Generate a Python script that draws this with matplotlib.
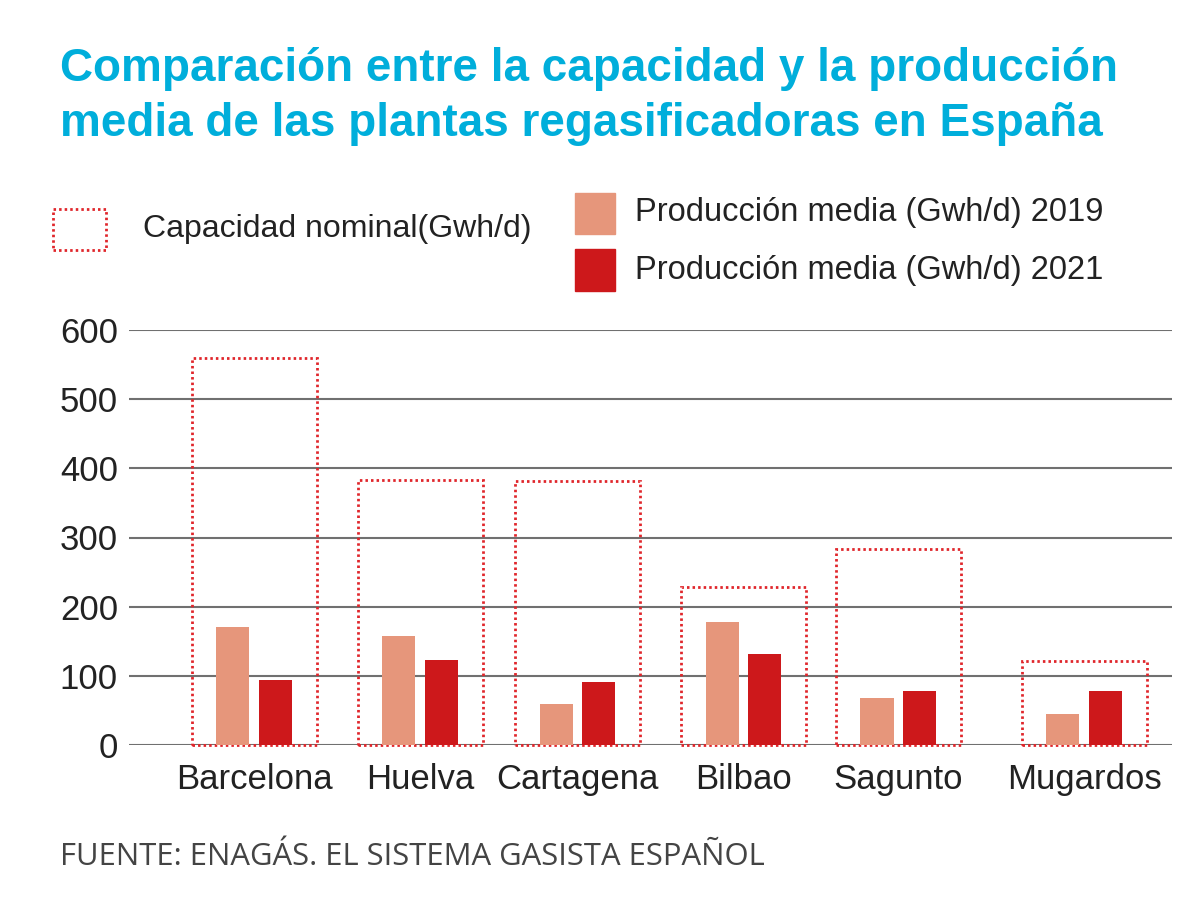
import matplotlib.pyplot as plt
from matplotlib.patches import Rectangle
import numpy as np

plantas = ['Barcelona', 'Huelva', 'Cartagena', 'Bilbao', 'Sagunto', 'Mugardos']
capacidad = [559, 383, 381, 228, 284, 121]
prod_2019 = [171, 158, 60, 178, 68, 45]
prod_2021 = [94, 123, 91, 131, 78, 78]
yticks = [0, 100, 200, 300, 400, 500, 600]

# layout (category centres, not data)
xpos = np.array([0, 1.0, 1.95, 2.95, 3.88, 5.0])

c19 = '#E6967B'
c21 = '#CD181B'
cbox = '#E0262B'
ccyan = '#00AEDB'
dots = (0, (0.9, 1.1))

plt.rcParams['font.family'] = ['Liberation Sans', 'DejaVu Sans']

fig = plt.figure(figsize=(12, 9.09), dpi=100)
W, H = 1200, 909

def fx(px):
    return px / W

def fy(py):
    return 1 - py / H

ax = fig.add_axes([fx(129), fy(745), fx(1172) - fx(129), (745 - 330) / H])

ax.bar(xpos, capacidad, width=0.753, fill=False, edgecolor=cbox,
       linestyle=dots, linewidth=2.0, zorder=2, clip_on=False)
ax.bar(xpos - 0.127, prod_2019, width=0.199, color=c19, zorder=3)
ax.bar(xpos + 0.127, prod_2021, width=0.199, color=c21, zorder=3)

ax.set_xlim(-0.753, 5.53)
ax.set_ylim(0, 600)
ax.set_yticks(yticks)
ax.set_xticks(xpos)
ax.set_xticklabels(plantas)
ax.yaxis.grid(True, color='#707070', linewidth=1.5)
ax.set_axisbelow(True)
for s in ax.spines.values():
    s.set_visible(False)
ax.tick_params(axis='y', length=0, pad=8, labelsize=25, labelcolor='#222222')
ax.tick_params(axis='x', length=0, pad=13, labelsize=25, labelcolor='#222222')

# title
fig.text(fx(60), fy(81), 'Comparación entre la capacidad y la producción',
         fontsize=33, fontweight='bold', color=ccyan, va='baseline', ha='left')
fig.text(fx(60), fy(136), 'media de las plantas regasificadoras en España',
         fontsize=33, fontweight='bold', color=ccyan, va='baseline', ha='left')

# legend
fig.add_artist(Rectangle((fx(53), fy(250)), fx(53), (250 - 209) / H,
                         transform=fig.transFigure, fill=False, edgecolor=cbox,
                         linestyle=dots, linewidth=2.0))
fig.text(fx(143), fy(229), 'Capacidad nominal(Gwh/d)', fontsize=23,
         color='#222222', va='center', ha='left')

fig.add_artist(Rectangle((fx(575), fy(234)), fx(40), (234 - 193) / H,
                         transform=fig.transFigure, color=c19))
fig.add_artist(Rectangle((fx(575), fy(291)), fx(40), (291 - 249) / H,
                         transform=fig.transFigure, color=c21))
fig.text(fx(635), fy(213), 'Producción media (Gwh/d) 2019', fontsize=23.5,
         color='#222222', va='center', ha='left')
fig.text(fx(635), fy(270), 'Producción media (Gwh/d) 2021', fontsize=23.5,
         color='#222222', va='center', ha='left')

# source
fig.text(fx(60), fy(857), 'FUENTE: ENAGÁS. EL SISTEMA GASISTA ESPAÑOL',
         fontsize=22.3, color='#444444', va='center', ha='left',
         family=['Open Sans', 'DejaVu Sans'])

fig.savefig('out.png', dpi=100, facecolor='white')
